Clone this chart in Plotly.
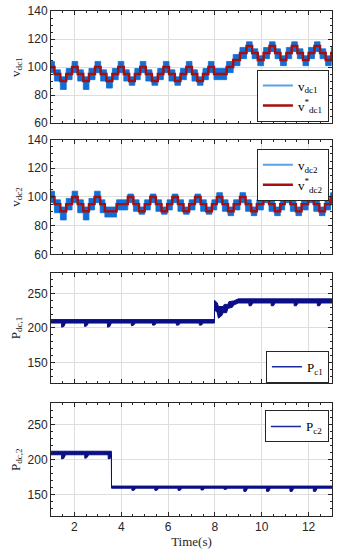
import plotly.graph_objects as go

# ---------------- data ----------------
# v_dc1 : step change times, reference level, measured band (upper / lower)
vdc1_t = [1.00, 1.15, 1.40, 1.65, 1.90, 2.14, 2.38, 2.62, 2.88, 3.12, 3.37, 3.62,
          3.87, 4.11, 4.34, 4.58, 4.81, 5.05, 5.31, 5.56, 5.80, 6.04, 6.29, 6.53,
          6.78, 7.02, 7.25, 7.49, 7.72, 7.96, 8.50, 8.78, 9.07, 9.35, 9.59, 9.83,
          10.08, 10.33, 10.57, 10.80, 11.05, 11.28, 11.52, 11.76, 12.00, 12.25,
          12.49, 12.73, 12.97, 13.00]
vdc1_ref = [100, 95, 90, 95, 100, 95, 90, 95, 100, 95, 90, 95,
            100, 95, 90, 95, 100, 95, 90, 95, 100, 95, 90, 95,
            100, 95, 90, 95, 100, 95, 100, 105, 110, 115, 110, 105,
            110, 115, 110, 105, 110, 115, 110, 105, 110, 115,
            110, 105, 110, 110]
vdc1_hi = [104, 98, 93, 99, 104, 98, 93, 99, 104, 98, 93, 99,
           104, 98, 93, 99, 104, 98, 93, 99, 104, 98, 93, 99,
           104, 98, 93, 99, 104, 99, 104, 109, 114, 118, 113, 108,
           114, 118, 113, 108, 114, 118, 113, 108, 114, 118,
           113, 108, 114, 114]
vdc1_lo = [96, 90, 84, 91, 96, 90, 84, 91, 96, 90, 85, 91,
           96, 90, 87, 91, 96, 90, 87, 91, 96, 90, 87, 91,
           96, 90, 87, 91, 96, 91, 96, 101, 106, 111, 106, 101,
           106, 111, 106, 101, 106, 111, 106, 101, 106, 111,
           106, 101, 106, 106]

# v_dc2
vdc2_t = [1.00, 1.15, 1.40, 1.65, 1.90, 2.14, 2.38, 2.62, 2.86, 3.10, 3.30, 3.80,
          4.28, 4.52, 4.76, 5.00, 5.24, 5.48, 5.72, 5.96, 6.18, 6.42, 6.66, 6.90,
          7.15, 7.39, 7.63, 7.87, 8.08, 8.32, 8.56, 8.80, 9.07, 9.31, 9.55, 9.79,
          10.07, 10.31, 10.55, 10.79, 10.98, 11.22, 11.46, 11.70, 11.98, 12.22,
          12.46, 12.70, 12.94, 13.00]
vdc2_ref = [100, 95, 90, 95, 100, 95, 90, 95, 100, 95, 90, 95,
            100, 95, 90, 95, 100, 95, 90, 95, 100, 95, 90, 95,
            100, 95, 90, 95, 100, 95, 90, 95, 100, 95, 90, 95,
            100, 95, 90, 95, 100, 95, 90, 95, 100, 95,
            90, 95, 100, 100]
vdc2_hi = [104, 98, 93, 99, 104, 98, 93, 99, 104, 98, 93, 98,
           102, 98, 93, 98, 102, 98, 93, 98, 102, 98, 93, 98,
           102, 98, 93, 98, 103, 98, 93, 98, 103, 98, 93, 98,
           103, 98, 93, 98, 103, 98, 93, 98, 103, 98,
           93, 98, 103, 103]
vdc2_lo = [96, 89, 84, 91, 96, 89, 84, 91, 96, 89, 86, 91,
           96, 90, 88, 91, 96, 90, 88, 91, 96, 90, 88, 91,
           96, 90, 88, 91, 96, 90, 87, 91, 96, 90, 87, 91,
           96, 90, 87, 91, 96, 90, 87, 91, 96, 90,
           87, 91, 96, 96]

# P_dc,1 band (upper and lower edges)
p1_hi_t = [1.00, 7.98, 7.985, 8.10, 8.15, 8.35, 8.40, 8.55, 8.60, 8.80, 9.00, 13.00]
p1_hi = [212, 212, 240, 236, 231, 231, 234, 234, 238, 239, 242, 242]
p1_lo_t = [1.00, 1.45, 1.455, 1.55, 1.62, 2.43, 2.435, 2.53, 2.60, 3.41, 3.415, 3.51, 3.58,
           4.43, 4.435, 4.53, 4.60, 5.33, 5.335, 5.43, 5.50, 6.35, 6.355, 6.45, 6.52,
           7.33, 7.335, 7.43, 7.50,
           7.98, 7.985, 8.10, 8.15, 8.30, 8.35, 8.50, 8.55, 8.75, 8.80, 9.00,
           9.45, 9.455, 9.55, 9.62, 10.40, 10.405, 10.50, 10.57, 11.38, 11.385, 11.48, 11.55,
           12.37, 12.375, 12.47, 12.54, 13.00]
p1_lo = [207, 207, 201, 202, 207, 207, 202, 203, 207, 207, 201, 202, 207,
         207, 203, 204, 207, 207, 204, 204, 207, 207, 204, 204, 207,
         207, 204, 204, 207,
         207, 226, 222, 214, 218, 222, 222, 228, 230, 233, 236,
         236, 232, 232, 236, 236, 232, 232, 236, 236, 232, 232, 236,
         236, 232, 232, 236, 236]

# P_dc,2 band
p2_hi_t = [1.00, 3.58, 3.585, 13.00]
p2_hi = [212, 212, 162.5, 162.5]
p2_lo_t = [1.00, 1.45, 1.455, 1.55, 1.62, 2.44, 2.445, 2.54, 2.61, 3.44, 3.445, 3.54, 3.58, 3.585,
           4.45, 4.455, 4.55, 4.62, 5.43, 5.435, 5.53, 5.60, 6.42, 6.425, 6.52, 6.59,
           7.40, 7.405, 7.50, 7.57, 8.38, 8.385, 8.48, 8.55, 9.23, 9.235, 9.33, 9.40,
           10.20, 10.205, 10.30, 10.37, 11.20, 11.205, 11.30, 11.37,
           12.20, 12.205, 12.30, 12.37, 13.00]
p2_lo = [207, 207, 201, 202, 207, 207, 202, 203, 207, 207, 201, 202, 207, 159.5,
         159.5, 156.5, 156.5, 159.5, 159.5, 156.5, 156.5, 159.5, 159.5, 156.5, 156.5, 159.5,
         159.5, 157, 157, 159.5, 159.5, 158, 158, 159.5, 159.5, 155, 155, 159.5,
         159.5, 155, 155, 159.5, 159.5, 155, 155, 159.5,
         159.5, 155, 155, 159.5, 159.5]

x_ticks = [2, 4, 6, 8, 10, 12]

# ---------------- styles ----------------
BAND = "#0f6fd6"
BAND_LEG = "#5aa2e6"
RED = "#a50f0f"
NAVY = "#0a0f86"
NAVY_LEG = "#1a2a9e"
AX = "#262626"
GRID = "#dedede"
SERIF = "Liberation Serif"
SANS = "Liberation Sans"

fig = go.Figure()


def add_step_band(t, lo, hi, ax_x, ax_y):
    fig.add_trace(go.Scatter(x=t, y=lo, mode="lines", line=dict(width=0.8, shape="hv", color=BAND),
                             xaxis=ax_x, yaxis=ax_y, showlegend=False, hoverinfo="skip"))
    fig.add_trace(go.Scatter(x=t, y=hi, mode="lines", line=dict(width=0.8, shape="hv", color=BAND),
                             fill="tonexty", fillcolor=BAND,
                             xaxis=ax_x, yaxis=ax_y, showlegend=False, hoverinfo="skip"))


def add_band(tl, lo, th, hi, ax_x, ax_y):
    fig.add_trace(go.Scatter(x=tl, y=lo, mode="lines", line=dict(width=1, color=NAVY),
                             xaxis=ax_x, yaxis=ax_y, showlegend=False, hoverinfo="skip"))
    fig.add_trace(go.Scatter(x=th, y=hi, mode="lines", line=dict(width=1, color=NAVY),
                             fill="tonexty", fillcolor=NAVY,
                             xaxis=ax_x, yaxis=ax_y, showlegend=False, hoverinfo="skip"))


# subplot 1
add_step_band(vdc1_t, vdc1_lo, vdc1_hi, "x", "y")
fig.add_trace(go.Scatter(x=[None], y=[None], mode="lines", line=dict(color=BAND_LEG, width=2),
                         name="v<sub>dc1</sub>", xaxis="x", yaxis="y", legend="legend"))
fig.add_trace(go.Scatter(x=vdc1_t, y=vdc1_ref, mode="lines", line=dict(color=RED, width=2.4, shape="hv"),
                         name="v<sup>*</sup><sub>dc1</sub>", xaxis="x", yaxis="y", legend="legend"))
# subplot 2
add_step_band(vdc2_t, vdc2_lo, vdc2_hi, "x2", "y2")
fig.add_trace(go.Scatter(x=[None], y=[None], mode="lines", line=dict(color=BAND_LEG, width=2),
                         name="v<sub>dc2</sub>", xaxis="x2", yaxis="y2", legend="legend2"))
fig.add_trace(go.Scatter(x=vdc2_t, y=vdc2_ref, mode="lines", line=dict(color=RED, width=2.4, shape="hv"),
                         name="v<sup>*</sup><sub>dc2</sub>", xaxis="x2", yaxis="y2", legend="legend2"))
# subplot 3
add_band(p1_lo_t, p1_lo, p1_hi_t, p1_hi, "x3", "y3")
fig.add_trace(go.Scatter(x=[None], y=[None], mode="lines", line=dict(color=NAVY_LEG, width=1.5),
                         name="P<sub>c1</sub>", xaxis="x3", yaxis="y3", legend="legend3"))
# subplot 4
add_band(p2_lo_t, p2_lo, p2_hi_t, p2_hi, "x4", "y4")
fig.add_trace(go.Scatter(x=[None], y=[None], mode="lines", line=dict(color=NAVY_LEG, width=1.5),
                         name="P<sub>c2</sub>", xaxis="x4", yaxis="y4", legend="legend4"))

domains = [[0.778, 1.0], [0.518, 0.7455], [0.263, 0.482], [0.0, 0.223]]
yranges = [[60, 140], [60, 140], [120, 280], [120, 280]]
ytickv = [[60, 80, 100, 120, 140], [60, 80, 100, 120, 140], [150, 200, 250], [150, 200, 250]]
yminor = [5, 5, 10, 10]
ytitles = ["v<sub>dc1</sub>", "v<sub>dc2</sub>", "P<sub>dc,1</sub>", "P<sub>dc,2</sub>"]

common = dict(showline=True, linecolor=AX, linewidth=1, mirror="allticks", ticks="inside",
              ticklen=4, tickcolor=AX, showgrid=True, gridcolor=GRID, gridwidth=1, zeroline=False,
              tickfont=dict(family=SANS, size=12, color=AX))

for i in range(4):
    sx = "" if i == 0 else str(i + 1)
    fig.layout["xaxis" + sx] = dict(
        common, domain=[0, 1], range=[1, 13], anchor="y" + sx, tickvals=x_ticks,
        showticklabels=(i == 3),
        minor=dict(ticks="inside", ticklen=2, dtick=0.5, tickcolor=AX, showgrid=False),
        title=dict(text="Time(s)", font=dict(family=SERIF, size=13, color=AX), standoff=2) if i == 3 else None,
    )
    fig.layout["yaxis" + sx] = dict(
        common, domain=domains[i], range=yranges[i], anchor="x" + sx, tickvals=ytickv[i],
        minor=dict(ticks="inside", ticklen=2, dtick=yminor[i], tickcolor=AX, showgrid=False),
        title=dict(text=ytitles[i], font=dict(family=SERIF, size=13, color=AX), standoff=4),
    )

leg_common = dict(bgcolor="white", bordercolor=AX, borderwidth=1, xanchor="right", yanchor="top",
                  font=dict(family=SERIF, size=13, color="black"), xref="paper", yref="paper",
                  itemwidth=30, tracegroupgap=0, traceorder="normal")
fig.layout.legend = dict(leg_common, x=0.989, y=0.884)
fig.layout.legend2 = dict(leg_common, x=0.989, y=0.727)
fig.layout.legend3 = dict(leg_common, x=0.989, y=0.327)
fig.layout.legend4 = dict(leg_common, x=0.989, y=0.209)

fig.update_layout(width=337, height=550, margin=dict(l=51, r=4, t=8, b=34),
                  paper_bgcolor="white", plot_bgcolor="white", showlegend=True)

fig.write_html("out.html", config={"displayModeBar": False},
               post_script="document.body.style.margin='0px';")
